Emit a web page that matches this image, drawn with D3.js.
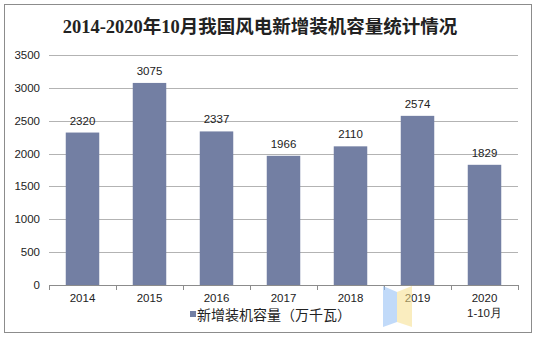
<!DOCTYPE html>
<html><head><meta charset="utf-8">
<script src="https://cdn.jsdelivr.net/npm/d3@7"></script>
<style>body{margin:0;background:#fff;}svg{display:block;}</style>
</head><body>
<svg id="c" width="538" height="343"></svg>
<script>
const categories = ["2014","2015","2016","2017","2018","2019","2020"];
const subLabels = ["","","","","","","1-10月"];
const values = [2320,3075,2337,1966,2110,2574,1829];
const yTicks = [0,500,1000,1500,2000,2500,3000,3500];
const title = "2014-2020年10月我国风电新增装机容量统计情况";
const seriesName = "新增装机容量（万千瓦）";

(function(){
const svg = d3.select("#c");
svg.append("rect").attr("x",4.5).attr("y",4.5).attr("width",527).attr("height",328)
  .attr("fill","#fff").attr("stroke","#8c8c8c").attr("stroke-width",1);

svg.append("text").attr("x",260).attr("y",33).attr("text-anchor","middle")
  .attr("font-family","'Liberation Serif','Noto Sans CJK SC',serif").attr("font-weight","bold")
  .attr("font-size",18.5).attr("fill","#222").text(title);

const pl=49,pr=518,pt=55,pb=285;
const x=d3.scaleBand().domain(categories).range([pl,pr]).paddingInner(0.5).paddingOuter(0.25);
const y=d3.scaleLinear().domain([0,3500]).range([pb,pt]);

const font="'Liberation Sans',Arial,sans-serif";
svg.append("g").selectAll("line").data(yTicks.filter(d=>d>0)).join("line")
  .attr("x1",pl).attr("x2",pr).attr("y1",d=>Math.round(y(d))+0.5).attr("y2",d=>Math.round(y(d))+0.5)
  .attr("stroke","#b3b3b3").attr("stroke-width",1);
svg.append("g").selectAll("text").data(yTicks).join("text")
  .attr("x",pl-9).attr("y",d=>y(d)+4).attr("text-anchor","end")
  .attr("font-family",font).attr("font-size",11.5).attr("fill","#222").text(d=>d);

svg.append("g").selectAll("rect").data(values).join("rect")
  .attr("x",(d,i)=>x(categories[i])).attr("width",x.bandwidth())
  .attr("y",d=>y(d)).attr("height",d=>pb-y(d)).attr("fill","#737fa3");

svg.append("g").selectAll("text").data(values).join("text")
  .attr("x",(d,i)=>x(categories[i])+x.bandwidth()/2).attr("y",d=>y(d)-8)
  .attr("text-anchor","middle").attr("font-family",font).attr("font-size",11.5).attr("fill","#222").text(d=>d);

const ax=svg.append("g");
ax.append("line").attr("x1",pl).attr("x2",pr).attr("y1",pb+0.5).attr("y2",pb+0.5).attr("stroke","#8c8c8c");
const step=x.step();
const bounds=d3.range(categories.length+1).map(i=>pl+i*step);
ax.selectAll("line.t").data(bounds).join("line").attr("class","t")
  .attr("x1",d=>Math.round(d)+0.5).attr("x2",d=>Math.round(d)+0.5).attr("y1",pb).attr("y2",pb+5).attr("stroke","#8c8c8c");
ax.selectAll("text.c").data(categories).join("text").attr("class","c")
  .attr("x",d=>x(d)+x.bandwidth()/2).attr("y",pb+17).attr("text-anchor","middle")
  .attr("font-family",font).attr("font-size",11.5).attr("fill","#222").text(d=>d);
ax.selectAll("text.s").data(subLabels).join("text").attr("class","s")
  .attr("x",(d,i)=>x(categories[i])+x.bandwidth()/2).attr("y",pb+32).attr("text-anchor","middle")
  .attr("font-family",font).attr("font-size",11.5).attr("fill","#222").text(d=>d);

svg.append("rect").attr("x",190).attr("y",311).attr("width",6).attr("height",6).attr("fill","#737fa3");
svg.append("text").attr("x",197).attr("y",320).attr("font-family","'Noto Sans CJK SC',sans-serif")
  .attr("font-size",14).attr("fill","#222").text(seriesName);

const wm=svg.append("g").attr("opacity",0.55);
wm.append("path").attr("d","M383,286 L397,292 L397,322 L383,327 Z").attr("fill","#8fbcf5");
wm.append("path").attr("d","M397,292 L412,286 L412,327 L397,322 Z").attr("fill","#f7e08c");
})();
</script>
</body></html>
